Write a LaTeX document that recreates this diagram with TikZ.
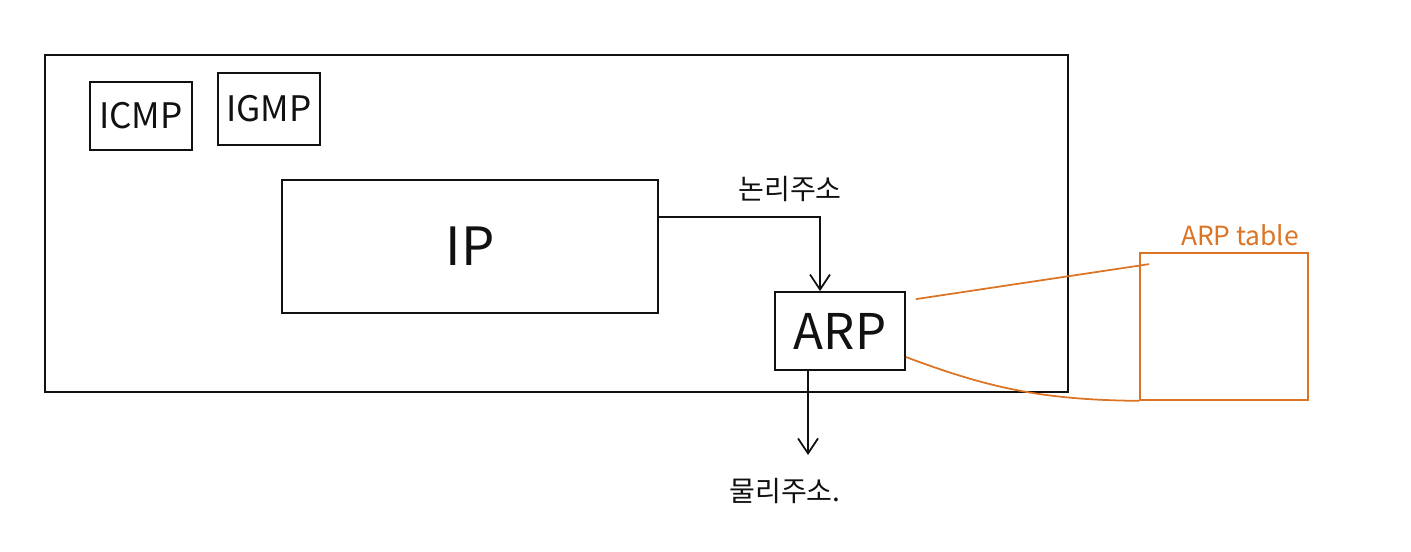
\documentclass[tikz,border=0pt]{standalone}
\usepackage{xcolor}
\definecolor{InkBlack}{HTML}{111111}
\definecolor{SketchOrange}{HTML}{DC7425}
\usepackage{fontspec}
\setmainfont{Noto Sans CJK KR}
\usepackage{tikz}
\usetikzlibrary{arrows.meta, calc, positioning}

\begin{document}
\begin{tikzpicture}[>={Straight Barb[length=3mm,width=4mm]}, line width=1pt, InkBlack,
    layerbox/.style={draw, rectangle, inner sep=0pt},
    tablebox/.style={draw=SketchOrange, rectangle, inner sep=0pt}]
  \useasboundingbox (0,0) rectangle (28.22,11.02);

  % Outer stack
  \node[layerbox, minimum width=20.46cm, minimum height=6.74cm] (stack) at (11.13,6.55) {};

  % Upper protocols
  \node[layerbox, minimum width=2.04cm, minimum height=1.36cm, font=\fontsize{20}{22}\selectfont] (icmp) at (2.82,8.70) {ICMP};
  \node[layerbox, minimum width=2.04cm, minimum height=1.44cm, font=\fontsize{20}{22}\selectfont] (igmp) at (5.38,8.84) {IGMP};

  % IP and ARP
  \node[layerbox, minimum width=7.52cm, minimum height=2.66cm, font=\fontsize{30}{32}\selectfont] (ip) at (9.40,6.09) {IP};
  \node[layerbox, minimum width=2.60cm, minimum height=1.56cm, font=\fontsize{28}{30}\selectfont] (arp) at (16.80,4.40) {ARP};

  % ARP table
  \node[tablebox, minimum width=3.36cm, minimum height=2.94cm] (arptable) at (24.48,4.49) {};
  \node[SketchOrange, font=\fontsize{15}{17}\selectfont] (tablelabel) at (24.80,6.32) {ARP table};

  % Addresses
  \coordinate (bend) at (16.40,6.68);
  \draw[->] (ip.east |- bend) -- (bend) -- (arp.north -| bend);
  \node[font=\fontsize{16}{18}\selectfont] (logical) at (15.80,7.24) {논리주소};

  \coordinate (down) at (16.16,1.92);
  \draw[->] (arp.south -| down) -- (down);
  \node[font=\fontsize{16}{18}\selectfont] (physical) at (15.70,1.20) {물리주소.};

  % Lookup lines
  \draw[SketchOrange] ([xshift=0.2cm,yshift=-0.16cm]arp.north east) -- ([xshift=0.2cm,yshift=-0.24cm]arptable.north west);
  \draw[SketchOrange] ([yshift=-0.52cm]arp.east) to[bend right=10] (arptable.south west);
\end{tikzpicture}
\end{document}
